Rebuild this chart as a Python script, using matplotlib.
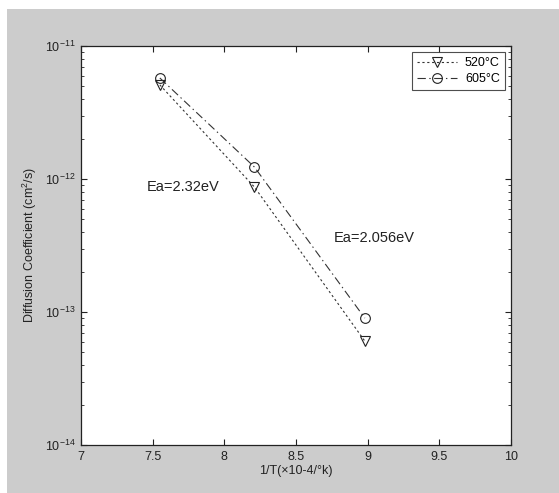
import matplotlib
matplotlib.use('Agg')
import matplotlib.pyplot as plt
from matplotlib.patches import Rectangle
from matplotlib.ticker import FixedLocator, NullFormatter

plt.rcParams['font.family'] = ['Liberation Sans', 'DejaVu Sans']
plt.rcParams['mathtext.fontset'] = 'custom'
plt.rcParams['mathtext.rm'] = 'Liberation Sans'
plt.rcParams['mathtext.it'] = 'Liberation Sans'
plt.rcParams['lines.scale_dashes'] = False

# data
inv_t = [7.55, 8.21, 8.98]
d_520 = [5.1e-12, 8.7e-13, 6.05e-14]
d_605 = [5.75e-12, 1.23e-12, 9.0e-14]
x_ticks = [7, 7.5, 8, 8.5, 9, 9.5, 10]
x_ticklabels = ['7', '7.5', '8', '8.5', '9', '9.5', '10']
y_ticks = [1e-14, 1e-13, 1e-12, 1e-11]
y_ticklabels = ['$10^{-14}$', '$10^{-13}$', '$10^{-12}$', '$10^{-11}$']

fig = plt.figure(figsize=(5.59, 4.93), dpi=100, facecolor='white')
# grey matlab-style figure background
fig.patches.append(Rectangle((7 / 559, 0), 1 - 7 / 559, 1 - 9 / 493,
                             transform=fig.transFigure, facecolor='#cccccc',
                             edgecolor='none', zorder=-10))

ax = fig.add_axes([81 / 559, 1 - 445 / 493, 430 / 559, 399 / 493])
ax.set_yscale('log')
ax.plot(inv_t, d_520, linestyle=(0, (1.6, 1.9)), color='#333333', linewidth=0.8,
        marker='v', markersize=7, markerfacecolor='none',
        markeredgecolor='#222222', markeredgewidth=0.8, label='520°C')
ax.plot(inv_t, d_605, linestyle=(0, (6, 2.5, 1, 2.5)), color='#333333', linewidth=0.8,
        marker='o', markersize=7, markerfacecolor='none',
        markeredgecolor='#222222', markeredgewidth=0.8, label='605°C')

ax.set_xlim(7, 10)
ax.set_ylim(1e-14, 1e-11)
ax.set_xticks(x_ticks)
ax.set_xticklabels(x_ticklabels)
ax.set_yticks(y_ticks)
ax.set_yticklabels(y_ticklabels)
minors = [m * 10.0 ** e for e in (-14, -13, -12) for m in range(2, 10)]
ax.yaxis.set_minor_locator(FixedLocator(minors))
ax.yaxis.set_minor_formatter(NullFormatter())

ax.tick_params(which='both', direction='in', top=True, right=True,
               labelsize=9, colors='#222222', pad=4)
ax.tick_params(which='major', length=4, width=0.8)
ax.tick_params(which='minor', length=2.5, width=0.6)
for s in ax.spines.values():
    s.set_linewidth(0.9)
    s.set_color('#222222')

ax.text(7.46, 8.7e-13, 'Ea=2.32eV', fontsize=10.5, va='center', color='#222222')
ax.text(8.76, 3.6e-13, 'Ea=2.056eV', fontsize=10.5, va='center', color='#222222')

ax.set_xlabel('1/T(×10-4/°k)', fontsize=9, color='#222222', labelpad=2)
ax.set_ylabel('Diffusion Coefficient (cm$^2$/s)', fontsize=9, color='#222222', labelpad=4)

leg = ax.legend(loc='upper right', fontsize=9, frameon=True, fancybox=False,
                edgecolor='#222222', handlelength=3.2, borderaxespad=0.5,
                labelspacing=0.3, borderpad=0.4, handletextpad=0.6)
leg.get_frame().set_linewidth(0.8)

fig.savefig('out.png', dpi=100, facecolor=fig.get_facecolor())
